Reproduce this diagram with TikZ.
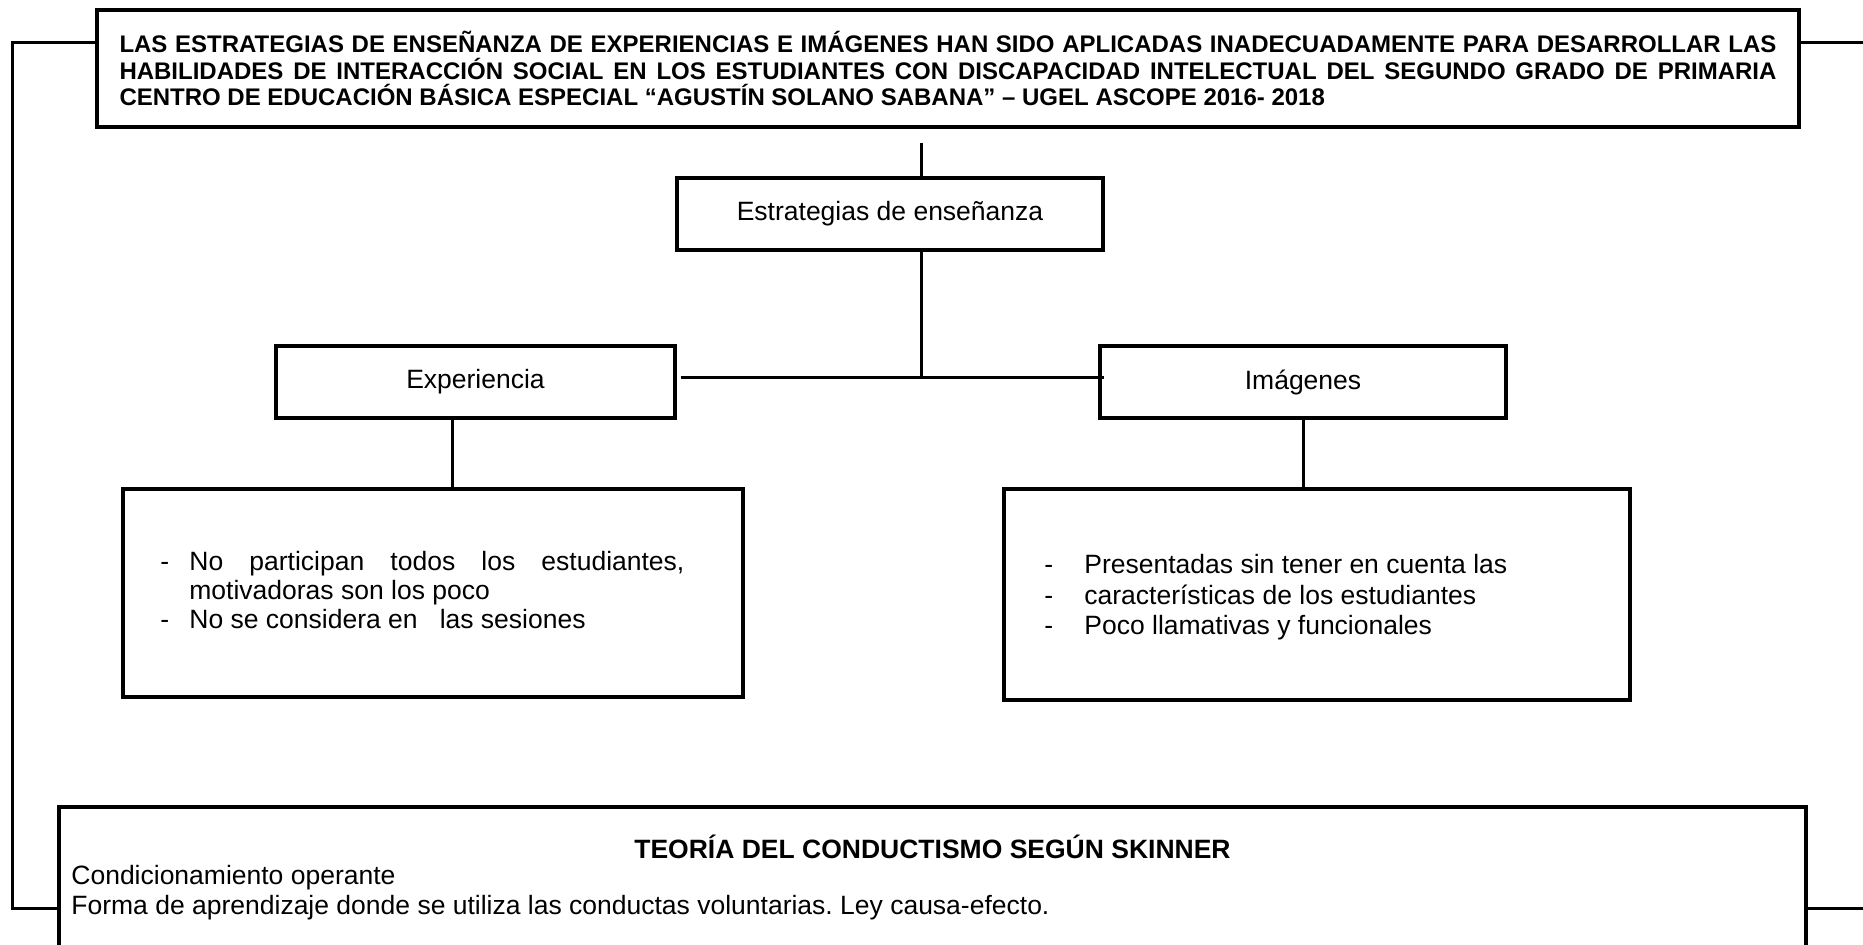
\documentclass[tikz,border=0pt]{standalone}
\usepackage{fontspec}
\setmainfont{Liberation Sans}
\usepackage{array}
\frenchspacing

\tikzset{
  box/.style={draw, line width=1.6pt, inner sep=0pt, align=center},
  conn/.style={line width=1.5pt},
  body/.style={font=\fontsize{13.25pt}{14.5pt}\selectfont},
}

\begin{document}
\begin{tikzpicture}[x=0.5pt, y=-0.5pt]
    \useasboundingbox (0,0) rectangle (1863,945);
    \clip (0,0) rectangle (1863,945);

    % Problem statement
    \node[box, minimum width=851pt, minimum height=58.5pt, text width=828.5pt, align=justify,
          font=\fontsize{12pt}{13.25pt}\selectfont\bfseries] (title) at (948,68.5)
      {\hyphenpenalty=10000 LAS ESTRATEGIAS DE ENSEÑANZA DE EXPERIENCIAS E IMÁGENES HAN SIDO APLICADAS INADECUADAMENTE PARA DESARROLLAR LAS\linebreak
       HABILIDADES DE INTERACCIÓN SOCIAL EN LOS ESTUDIANTES CON DISCAPACIDAD INTELECTUAL DEL SEGUNDO GRADO DE PRIMARIA\linebreak
       CENTRO DE EDUCACIÓN BÁSICA ESPECIAL “AGUSTÍN SOLANO SABANA” – UGEL ASCOPE 2016- 2018};

    % Strategies
    \node[box, body, minimum width=213pt, minimum height=36pt] (estrat) at (890,214) {Estrategias de enseñanza};
    \node[box, body, minimum width=199.5pt, minimum height=36pt] (exper) at (475.5,382) {Experiencia};
    \node[box, body, minimum width=203pt, minimum height=36pt] (imag) at (1303,382) {Imágenes};

    % Details
    \node[box, minimum width=310pt, minimum height=104pt] (expdet) at (433,593) {};
    \node[box, minimum width=313pt, minimum height=105.5pt] (imgdet) at (1317,594.5) {};
    \node[body, anchor=west, inner sep=0pt] (exptxt) at (160,594)
      {\begin{tabular}{@{}p{14.5pt}@{}p{247.5pt}@{}}
        - & No participan todos los estudiantes,\linebreak motivadoras son los poco\\
        - & No se considera en\ \ \ las sesiones
       \end{tabular}};
    \node[font=\fontsize{13.25pt}{15.25pt}\selectfont, anchor=west, inner sep=0pt] (imgtxt) at (1044,598)
      {\begin{tabular}{@{}p{20pt}@{}l@{}}
        - & Presentadas sin tener en cuenta las\\
        - & características de los estudiantes\\
        - & Poco llamativas y funcionales
       \end{tabular}};

    % Theory
    \node[box, minimum width=873.5pt, minimum height=91pt] (teoria) at (932.5,898) {};
    \node[font=\fontsize{13.25pt}{14.5pt}\selectfont\bfseries] (teohead) at (932.5,847) {TEORÍA DEL CONDUCTISMO SEGÚN SKINNER};
    \node[body, anchor=west, inner sep=0pt] (teo1) at (71,878) {Condicionamiento operante};
    \node[body, anchor=west, inner sep=0pt] (teo2) at (71,908) {Forma de aprendizaje donde se utiliza las conductas voluntarias. Ley causa-efecto.};

    % Connectors
    \coordinate (tl) at (12,43);
    \coordinate (bl) at (12,908);
    \coordinate (tr) at (1863,43);
    \coordinate (br) at (1863,908);
    \coordinate (top) at (921,143);
    \coordinate (hub) at (921,378);
    \coordinate (ex) at (452,450);

    \draw[conn] (title.west |- tl) -- (tl) -- (bl) -- (teoria.west |- bl);
    \draw[conn] (title.east |- tr) -- (tr);
    \draw[conn] (teoria.east |- br) -- (br);

    \draw[conn] (top) -- (top |- estrat.north);
    \draw[conn] (estrat.south -| hub) -- (hub);
    \draw[conn] ([xshift=2pt]exper.east |- hub) -- ([xshift=3pt]imag.west |- hub);
    \draw[conn] (exper.south -| ex) -- (expdet.north -| ex);
    \draw[conn] (imag.south) -- (imag.south |- imgdet.north);
\end{tikzpicture}
\end{document}
